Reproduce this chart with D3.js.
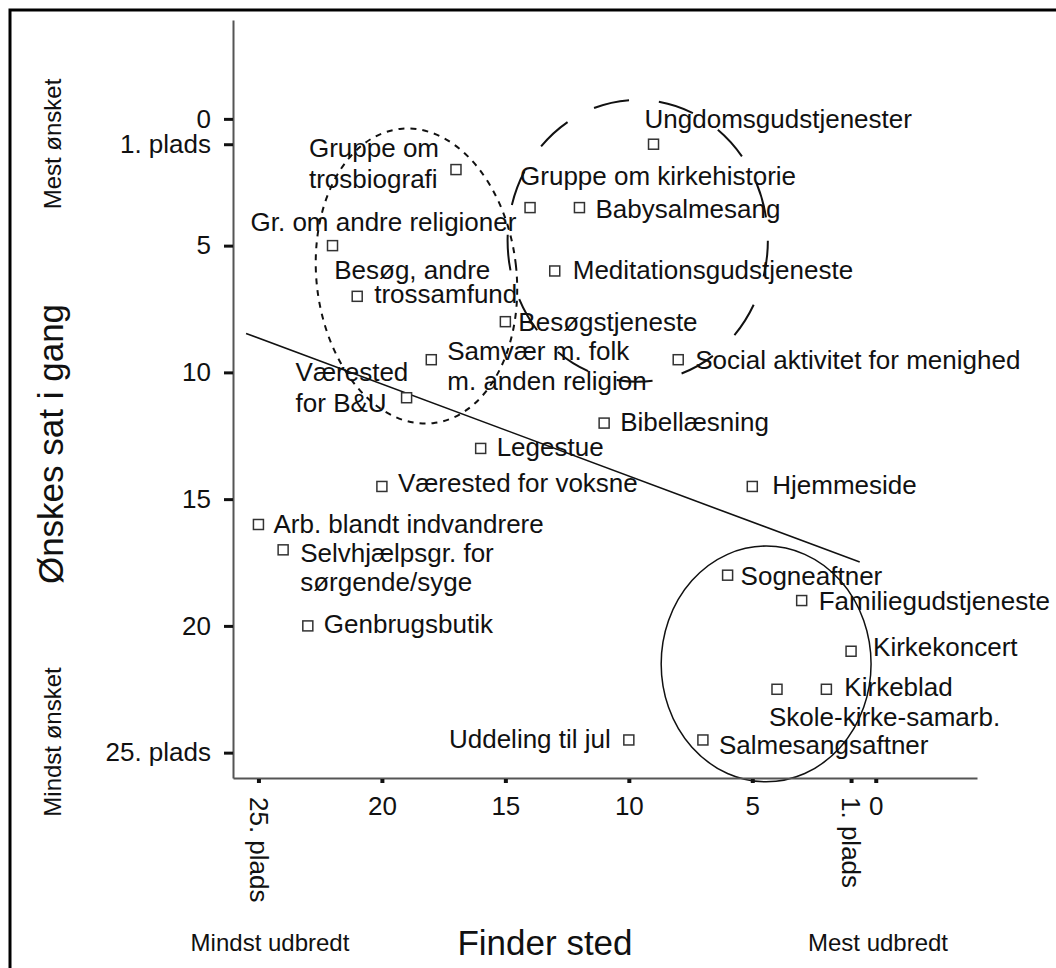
<!DOCTYPE html>
<html><head><meta charset="utf-8">
<script src="https://cdn.jsdelivr.net/npm/d3@7"></script>
<style>
body{margin:0;background:#fff}
svg{display:block}
text{font-family:"Liberation Sans",Arial,Helvetica,sans-serif}
</style>
</head><body>
<svg id="chart" width="1056" height="968"></svg>
<script>
// ---------- DATA ----------
const activities = [
  "Ungdomsgudstjenester","Gruppe om trosbiografi","Gruppe om kirkehistorie","Babysalmesang",
  "Gr. om andre religioner","Meditationsgudstjeneste","Besøg, andre trossamfund","Besøgstjeneste",
  "Samvær m. folk m. anden religion","Social aktivitet for menighed","Værested for B&U","Bibellæsning",
  "Legestue","Værested for voksne","Hjemmeside","Arb. blandt indvandrere",
  "Selvhjælpsgr. for sørgende/syge","Genbrugsbutik","Uddeling til jul","Sogneaftner",
  "Familiegudstjeneste","Kirkekoncert","Kirkeblad","Skole-kirke-samarb.","Salmesangsaftner"
];
// "Finder sted" rank (1 = mest udbredt)
const finderSted = [9,17,14,12,22,13,21,15,18,8,19,11,16,20,5,25,24,23,10,6,3,1,2,4,7];
// "Ønskes sat i gang" rank (1 = mest ønsket)
const oenskesSatIGang = [1,2,3.5,3.5,5,6,7,8,9.5,9.5,11,12,13,14.5,14.5,16,17,20,24.5,18,19,21,22.5,22.5,24.5];
const labelLines = [
  ["Ungdomsgudstjenester"],["Gruppe om","trosbiografi"],["Gruppe om kirkehistorie"],["Babysalmesang"],
  ["Gr. om andre religioner"],["Meditationsgudstjeneste"],["Besøg, andre","trossamfund"],["Besøgstjeneste"],
  ["Samvær m. folk","m. anden religion"],["Social aktivitet for menighed"],["Værested","for B&U"],["Bibellæsning"],
  ["Legestue"],["Værested for voksne"],["Hjemmeside"],["Arb. blandt indvandrere"],
  ["Selvhjælpsgr. for","sørgende/syge"],["Genbrugsbutik"],["Uddeling til jul"],["Sogneaftner"],
  ["Familiegudstjeneste"],["Kirkekoncert"],["Kirkeblad"],["Skole-kirke-samarb."],["Salmesangsaftner"]
];
const yTickValues = [0,1,5,10,15,20,25];
const yTickLabels = ["0","1. plads","5","10","15","20","25. plads"];
const xTickValues = [25,20,15,10,5,1,0];
const xTickLabels = ["25. plads","20","15","10","5","1. plads","0"];
const trendXExtent = [25.5, 0.65];
// group ellipses in data units
const ellipseCx = [18.6, 9.64, 4.44];
const ellipseCy = [6.2, 4.81, 21.5];
const ellipseRx = [4.05, 5.27, 4.25];
const ellipseRy = [5.84, 5.56, 4.65];

// ---------- LAYOUT / STYLE ----------
const ellipseRot = [-6.4, 0, 0];
const ellipseDash = ["6,6", "36,30", null];
const ellipseWidth = [2, 2, 1.5];
// label line offsets from point centre (px): [dx, dy(baseline)]
const labelOffsets = [
  [[-9,-16]],[[-147,-13],[-147,18]],[[-10,-23]],[[16,10]],
  [[-82,-15]],[[18,8]],[[-23,-17],[17,7]],[[13,9]],
  [[16,0],[16,30]],[[17,9]],[[-111,-17],[-111,14]],[[16,8]],
  [[16,8]],[[16,6]],[[20,8]],[[15,9]],
  [[17,12],[17,41]],[[16,7]],[[-18,8]],[[13,10]],
  [[17,9]],[[22,5]],[[18,7]],[[-8,37]],[[16,14]]
];
const labelAnchor = activities.map((d,i)=> i===18 ? "end" : "start");

const svg = d3.select("#chart");

// frame
svg.append("rect").attr("x",10).attr("y",10).attr("width",1100).attr("height",1000)
  .attr("fill","none").attr("stroke","#000").attr("stroke-width",3);

const x = d3.scaleLinear().domain([26.03,-4.1]).range([233,977]);
const y = d3.scaleLinear().domain([-3.9,26.0]).range([20,778]);
const kx = Math.abs(x(1)-x(0)), ky = Math.abs(y(1)-y(0));

// labels
const pts = activities.map((a,i)=>({name:a, fx:finderSted[i], oy:oenskesSatIGang[i], lines:labelLines[i], off:labelOffsets[i], anchor:labelAnchor[i]}));
const lab = svg.append("g").attr("fill","#111").attr("font-size",26);
pts.forEach(p=>{
  p.lines.forEach((ln,j)=>{
    lab.append("text")
      .attr("x", x(p.fx)+p.off[j][0])
      .attr("y", y(p.oy)+p.off[j][1])
      .attr("text-anchor", p.anchor)
      .text(ln);
  });
});

// ellipses
ellipseCx.forEach((cx,i)=>{
  svg.append("ellipse")
    .attr("transform",`translate(${x(cx)},${y(ellipseCy[i])}) rotate(${ellipseRot[i]})`)
    .attr("rx", ellipseRx[i]*kx).attr("ry", ellipseRy[i]*ky)
    .attr("fill","none").attr("stroke","#111")
    .attr("stroke-width", ellipseWidth[i])
    .attr("stroke-dasharray", ellipseDash[i]);
});

// regression line
const mx = d3.mean(finderSted), my = d3.mean(oenskesSatIGang);
const sxy = d3.sum(finderSted.map((v,i)=>(v-mx)*(oenskesSatIGang[i]-my)));
const sxx = d3.sum(finderSted.map(v=>(v-mx)*(v-mx)));
const slope = sxy/sxx, icpt = my - slope*mx;
svg.append("path")
  .datum(trendXExtent.map(v=>[v, icpt+slope*v]))
  .attr("d", d3.line().x(d=>x(d[0])).y(d=>y(d[1])))
  .attr("fill","none").attr("stroke","#111").attr("stroke-width",1.6);

// points
svg.append("g").selectAll("rect").data(pts).join("rect")
  .attr("x", d=>x(d.fx)-5).attr("y", d=>y(d.oy)-5)
  .attr("width",10).attr("height",10)
  .attr("fill","#fff").attr("stroke","#333").attr("stroke-width",1.5);

// axes
const yAxis = d3.axisLeft(y).tickValues(yTickValues).tickFormat((d,i)=>yTickLabels[i])
  .tickSize(9).tickPadding(13).tickSizeOuter(0);
const gy = svg.append("g").attr("transform","translate(233,0)").call(yAxis);
gy.select(".domain").attr("stroke","#555").attr("stroke-width",2);
gy.selectAll(".tick line").attr("stroke","#111").attr("stroke-width",3);
gy.selectAll(".tick text").attr("font-size",26).attr("fill","#111")
  .attr("font-family","Liberation Sans, Arial, sans-serif");

const xAxis = d3.axisBottom(x).tickValues(xTickValues).tickFormat((d,i)=>xTickLabels[i])
  .tickSize(5).tickSizeOuter(0);
const gx = svg.append("g").attr("transform","translate(0,778)").call(xAxis);
gx.select(".domain").attr("stroke","#555").attr("stroke-width",2);
gx.selectAll(".tick line").attr("stroke","#111").attr("stroke-width",4).attr("y1",1);
gx.selectAll(".tick text").attr("font-size",26).attr("fill","#111")
  .attr("font-family","Liberation Sans, Arial, sans-serif")
  .each(function(d,i){
    const t = d3.select(this);
    if (xTickLabels[i].indexOf("plads")>=0) {
      t.attr("transform","rotate(90)").attr("x",19).attr("y",0).attr("dy","0.35em")
       .attr("text-anchor","start");
    } else {
      t.attr("y",19).attr("dy","0.71em");
    }
  });

// titles
svg.append("text").attr("transform","translate(63,444) rotate(-90)")
  .attr("text-anchor","middle").attr("font-size",35).attr("fill","#111").text("Ønskes sat i gang");
svg.append("text").attr("transform","translate(61,144) rotate(-90)")
  .attr("text-anchor","middle").attr("font-size",24).attr("fill","#111").text("Mest ønsket");
svg.append("text").attr("transform","translate(61,742) rotate(-90)")
  .attr("text-anchor","middle").attr("font-size",24).attr("fill","#111").text("Mindst ønsket");
svg.append("text").attr("x",545).attr("y",955)
  .attr("text-anchor","middle").attr("font-size",35).attr("fill","#111").text("Finder sted");
svg.append("text").attr("x",270).attr("y",951)
  .attr("text-anchor","middle").attr("font-size",24).attr("fill","#111").text("Mindst udbredt");
svg.append("text").attr("x",878).attr("y",951)
  .attr("text-anchor","middle").attr("font-size",24).attr("fill","#111").text("Mest udbredt");
</script>
</body></html>
